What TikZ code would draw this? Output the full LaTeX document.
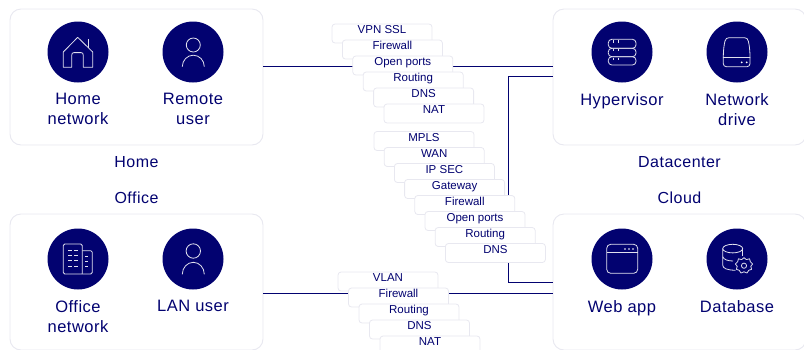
\documentclass[tikz,border=0pt]{standalone}
\usepackage{fontspec}
\setmainfont{Liberation Sans}
\usepackage{xcolor}
\usetikzlibrary{positioning, calc}
\definecolor{NavyInk}{RGB}{2,2,112}
\definecolor{PanelEdge}{RGB}{232,232,240}
\begin{document}
\begin{tikzpicture}[
  x=1pt, y=-1pt,
  panel/.style={draw=PanelEdge, fill=white, line width=0.9pt, rounded corners=11pt,
                minimum width=253pt, minimum height=136pt, inner sep=0pt},
  disc/.style={circle, fill=NavyInk, minimum size=61pt, inner sep=0pt},
  item/.style={font=\fontsize{16.5}{20}\selectfont\addfontfeature{LetterSpace=3}, text=NavyInk,
               align=center, inner sep=0pt},
  group/.style={font=\fontsize{16}{18}\selectfont\addfontfeature{LetterSpace=3}, text=NavyInk, inner sep=0pt},
  pill/.style={draw=PanelEdge, fill=white, line width=0.8pt, rounded corners=3pt,
               minimum width=100pt, inner xsep=0pt, inner ysep=0pt,
               text height=9.5pt, text depth=9.5pt, text=NavyInk,
               font=\fontsize{11.5}{13}\selectfont},
  link/.style={draw=NavyInk, line width=1pt},
  glyph/.style={draw=white!88!NavyInk, line width=0.8pt, line join=round},
]
\useasboundingbox (0,0) rectangle (804,349);

% the four sites
\node[panel] (home)   at (136.5,77)  {};
\node[panel] (center) at (679.5,77)  {};
\node[panel] (office) at (136.5,282) {};
\node[panel] (cloud)  at (679.5,282) {};

\node[group, below=10.5pt of home]   (homeT)   {Home};
\node[group, below=10.5pt of center] (centerT) {Datacenter};
\node[group, above=10pt of office] (officeT) {Office};
\node[group, above=10pt of cloud]  (cloudT)  {Cloud};

% links behind the stacks
\draw[link] ([yshift=10.5pt]home.east) -- ([yshift=10.5pt]center.west);
\draw[link] ([yshift=1pt]center.west) -| (508,282) -- (cloud.west);
\draw[link] ([yshift=-11.5pt]office.east) -- ([yshift=-11.5pt]cloud.west);

% home stack
\node[pill] (vpnA) at (382,33.5) {VPN SSL};
\node[pill, below=-3.8pt of vpnA, xshift=10.4pt] (fwA) {Firewall};
\node[pill, below=-3.8pt of fwA, xshift=10.4pt] (portA) {Open ports};
\node[pill, below=-3.8pt of portA, xshift=10.4pt] (routeA) {Routing};
\node[pill, below=-3.8pt of routeA, xshift=10.4pt] (dnsA) {DNS};
\node[pill, below=-3.8pt of dnsA, xshift=10.4pt] (natA) {NAT};

% middle stack
\node[pill] (mplsB) at (424,141) {MPLS};
\node[pill, below=-3.8pt of mplsB, xshift=10.2pt] (wanB) {WAN};
\node[pill, below=-3.8pt of wanB, xshift=10.2pt] (secB) {IP SEC};
\node[pill, below=-3.8pt of secB, xshift=10.2pt] (gateB) {Gateway};
\node[pill, below=-3.8pt of gateB, xshift=10.2pt] (fwB) {Firewall};
\node[pill, below=-3.8pt of fwB, xshift=10.2pt] (portB) {Open ports};
\node[pill, below=-3.8pt of portB, xshift=10.2pt] (routeB) {Routing};
\node[pill, below=-3.8pt of routeB, xshift=10.2pt] (dnsB) {DNS};

% office stack
\node[pill] (vlanC) at (388,281.5) {VLAN};
\node[pill, below=-3.8pt of vlanC, xshift=10.5pt] (fwC) {Firewall};
\node[pill, below=-3.8pt of fwC, xshift=10.5pt] (routeC) {Routing};
\node[pill, below=-3.8pt of routeC, xshift=10.5pt] (dnsC) {DNS};
\node[pill, below=-3.8pt of dnsC, xshift=10.5pt] (natC) {NAT};

% discs and their labels
\node[disc] (homenet) at (78,52)    {};
\node[disc] (remote)  at (193,52)   {};
\node[disc] (hyper)   at (622,52)   {};
\node[disc] (drive)   at (737,52)   {};
\node[disc] (officenet) at (78,259) {};
\node[disc] (lan)     at (193,259)  {};
\node[disc] (webapp)  at (622,259)  {};
\node[disc] (dbase)   at (737,259)  {};

\node[item, below=10.5pt of homenet]   (homenetT)   {Home\\network};
\node[item, below=10.5pt of remote]    (remoteT)    {Remote\\user};
\node[item, below=10.5pt of hyper]     (hyperT)     {Hypervisor};
\node[item, below=10.5pt of drive]     (driveT)     {Network\\drive};
\node[item, below=10.5pt of officenet] (officenetT) {Office\\network};
\node[item, below=10.5pt of lan]       (lanT)       {LAN user};
\node[item, below=10.5pt of webapp]    (webappT)    {Web app};
\node[item, below=10.5pt of dbase]     (dbaseT)     {Database};

% house
\draw[glyph] (63.3,52) -- (77.7,37.3) -- (92.7,52) -- (92.7,67.3) -- (83.3,67.3) -- (83.3,55.5)
  .. controls (83.3,53.2) and (82.6,52.6) .. (81,52.6) -- (74,52.6)
  .. controls (72.4,52.6) and (71.7,53.2) .. (71.7,55.5) -- (71.7,67.3) -- (63.3,67.3) -- cycle;
\draw[glyph] (88.3,39.3) -- (88.3,47.5);
% users
\draw[glyph] (193.3,45) circle (7);
\draw[glyph] (182.3,66.7) arc[start angle=180, end angle=0, x radius=11, y radius=-11.5];
\draw[glyph] (193.3,251) circle (7.2);
\draw[glyph] (182.3,274.3) arc[start angle=180, end angle=0, x radius=11, y radius=-12];
% servers
\draw[glyph, rounded corners=3.5pt] (608.3,39.3) rectangle (636,48.3);
\draw[glyph, rounded corners=3.5pt] (608.3,48.3) rectangle (636,56.7);
\draw[glyph, rounded corners=3.5pt] (608.3,56.7) rectangle (636,65);
\draw[glyph] (613.3,40) -- (613.3,42.5) (618.3,40) -- (618.3,42.5);
\draw[glyph] (613.3,49) -- (613.3,51.3) (618.3,49) -- (618.3,51.3);
\draw[glyph] (613.3,57.5) -- (613.3,59.8) (618.3,57.5) -- (618.3,59.8);
% disk
\draw[glyph, rounded corners=3pt] (723.3,57.3) -- (723.3,66.7) -- (750,66.7) -- (750,57.3);
\draw[glyph] (723.3,58) .. controls (723.3,50) and (724,45) .. (725,41)
  .. controls (725.6,38.7) and (727,37.7) .. (729,37.7) -- (744.5,37.7)
  .. controls (746.5,37.7) and (747.8,38.7) .. (748.3,41)
  .. controls (749.3,45) and (750,50) .. (750,58);
\draw[glyph] (723.3,57.3) -- (750,57.3);
\fill[white] (741.7,62.3) circle (1) (746.7,62.3) circle (1);
% office blocks
\draw[glyph, rounded corners=1.5pt] (82.3,274) -- (63.3,274) -- (63.3,244) -- (82.3,244) -- (82.3,274);
\draw[glyph, rounded corners=1.5pt] (82.3,250.7) -- (92.3,250.7) -- (92.3,274) -- (82.3,274);
\draw[glyph] (68.3,250.7) -- (71.7,250.7) (74,250.7) -- (77.7,250.7)
  (68.3,255.7) -- (71.7,255.7) (74,255.7) -- (77.7,255.7)
  (68.3,260.7) -- (71.7,260.7) (74,260.7) -- (77.7,260.7)
  (68.3,266) -- (71.7,266) (74,266) -- (77.7,266);
\draw[glyph] (85,256.7) -- (87.7,256.7) (85,261) -- (87.7,261) (85,266) -- (87.7,266);
% browser window
\draw[glyph, rounded corners=4pt] (606.7,244.3) rectangle (637.7,273.3);
\draw[glyph] (606.7,252.7) -- (637.7,252.7);
\fill[white] (625,249) circle (0.9) (629,249) circle (0.9) (633,249) circle (0.9);
% database with cog
\draw[glyph] (732.7,248.6) ellipse (10 and 4.3);
\draw[glyph] (722.7,248.6) -- (722.7,265) .. controls (722.7,268.5) and (727,270) .. (735.5,270.3);
\draw[glyph] (722.7,256.7) .. controls (723.5,259.5) and (728,261) .. (733,261);
\draw[glyph] (742.7,248.6) -- (742.7,255.5);
\draw[glyph] (744,265.7) circle (2.6);
\draw[glyph] (744,257.6) -- (746.3,259.6) -- (749.5,258.8) -- (750.4,261.8) -- (752.6,264) -- (750.8,266.3)
  -- (751.6,269.3) -- (748.8,270.3) -- (747,273) -- (744,271.8) -- (741,273) -- (739.2,270.3)
  -- (736.4,269.3) -- (737.2,266.3) -- (735.4,264) -- (737.6,261.8) -- (738.5,258.8) -- (741.7,259.6) -- cycle;
\end{tikzpicture}
\end{document}
